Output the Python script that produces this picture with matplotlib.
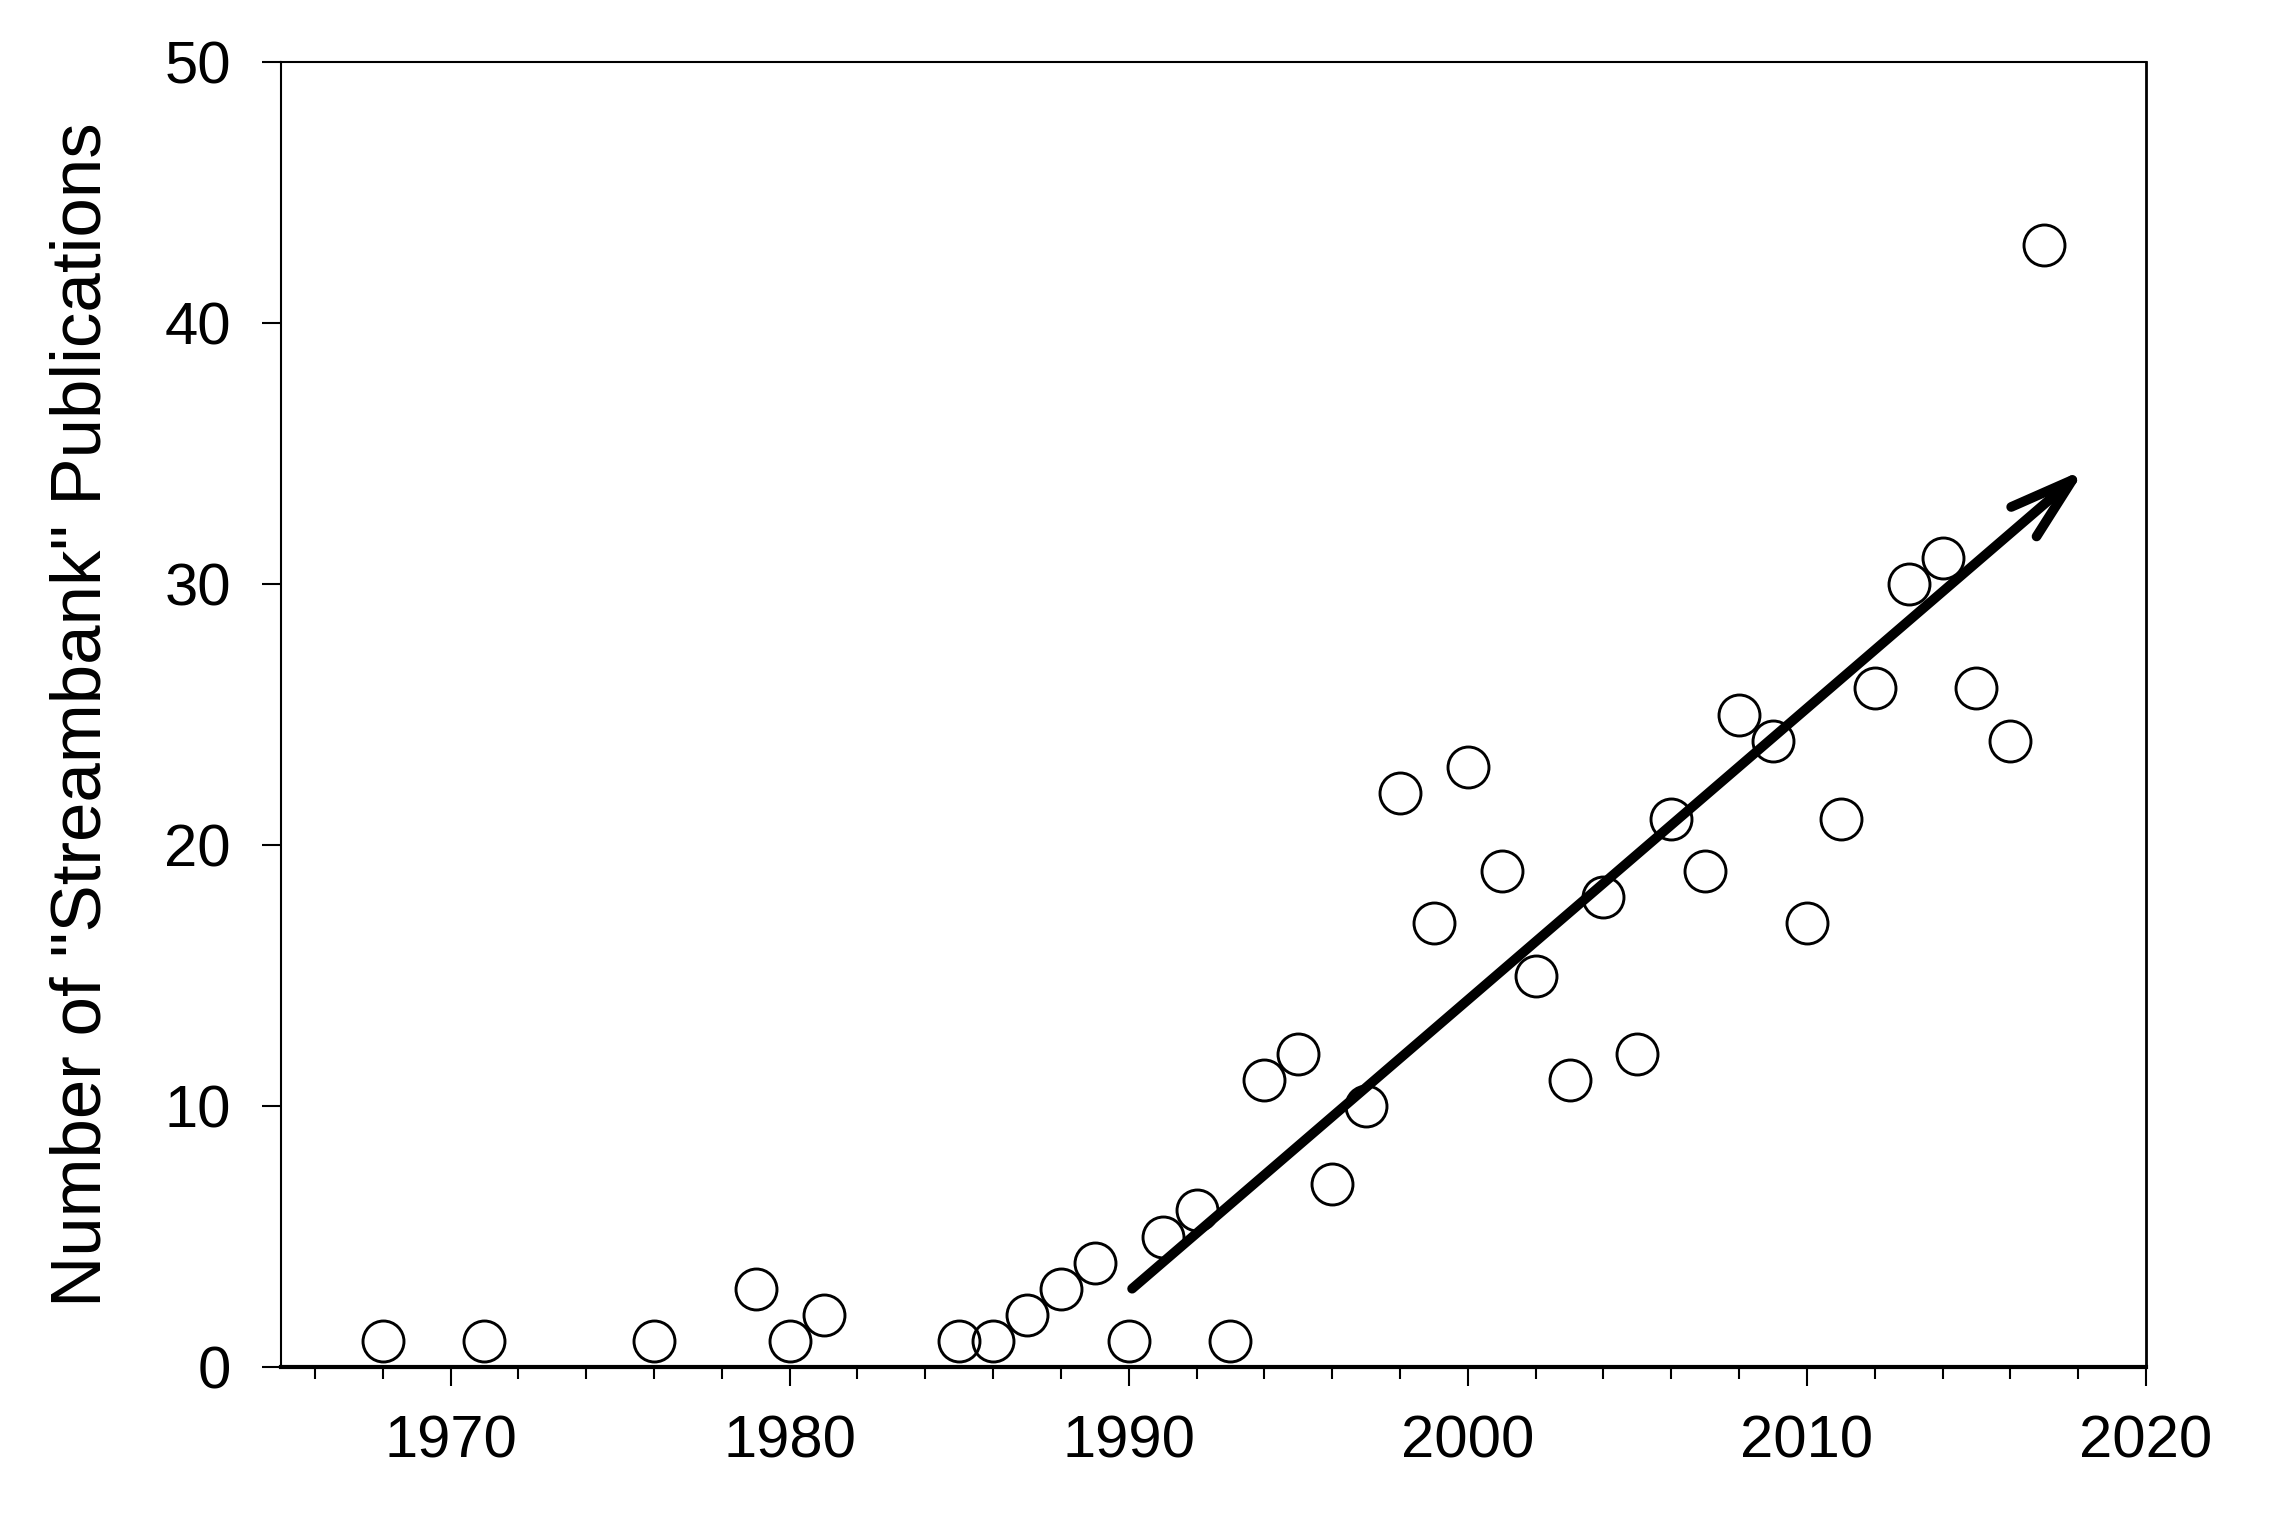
import matplotlib
matplotlib.use("Agg")
import matplotlib.pyplot as plt
from matplotlib.ticker import MultipleLocator

plt.rcParams['font.family'] = ['Liberation Sans', 'DejaVu Sans']

years = [1968, 1971, 1976, 1979, 1980, 1981, 1985, 1986, 1987, 1988, 1989,
         1990, 1991, 1992, 1993, 1994, 1995, 1996, 1997, 1998, 1999, 2000,
         2001, 2002, 2003, 2004, 2005, 2006, 2007, 2008, 2009, 2010, 2011,
         2012, 2013, 2014, 2015, 2016, 2017]
counts = [1, 1, 1, 3, 1, 2, 1, 1, 2, 3, 4,
          1, 5, 6, 1, 11, 12, 7, 10, 22, 17, 23,
          19, 15, 11, 18, 12, 21, 19, 25, 24, 17, 21,
          26, 30, 31, 26, 24, 43]

arrow_start = (1990.1, 3.0)
arrow_end = (2018.2, 34.4)

x_major = [1970, 1980, 1990, 2000, 2010, 2020]
y_major = [0, 10, 20, 30, 40, 50]
ylabel = 'Number of "Streambank" Publications'

fig = plt.figure(figsize=(22.84, 15.36), dpi=100)
ax = fig.add_axes([281/2284, 1 - 1367/1536, (2146-281)/2284, (1367-62)/1536])

ax.plot(years, counts, linestyle='none', marker='o', markersize=29.5,
        markerfacecolor='none', markeredgecolor='black', markeredgewidth=2.1,
        zorder=3)

ax.annotate('', xy=arrow_end, xytext=arrow_start,
            arrowprops=dict(arrowstyle='->,head_length=4.6,head_width=1.4',
                            mutation_scale=10, lw=7, color='black',
                            shrinkA=0, shrinkB=0, capstyle='round',
                            joinstyle='round'),
            zorder=2)

ax.set_xlim(1965, 2020)
ax.set_ylim(0, 50)
ax.set_xticks(x_major)
ax.xaxis.set_minor_locator(MultipleLocator(2))
ax.set_yticks(y_major)

ax.tick_params(axis='x', which='major', direction='out', length=14, width=1.5,
               labelsize=43, pad=20)
ax.tick_params(axis='x', which='minor', direction='out', length=8.5, width=1.5)
ax.tick_params(axis='y', which='major', direction='out', length=14, width=1.5,
               labelsize=43, pad=22)

for s in ['left', 'top']:
    ax.spines[s].set_linewidth(1.5)
ax.spines['right'].set_linewidth(2.0)
ax.spines['bottom'].set_linewidth(3.0)

ax.set_ylabel(ylabel, fontsize=51)
ax.yaxis.set_label_coords(-0.089, 0.5)

fig.savefig('out.png', dpi=100, facecolor='white')
